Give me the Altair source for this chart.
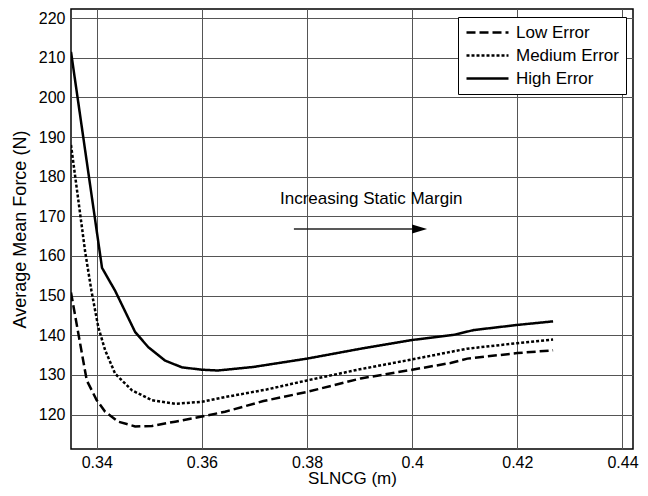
import altair as alt
import pandas as pd

series_names = ["Low Error", "Medium Error", "High Error"]

low_x = [0.3351, 0.3365, 0.3381, 0.3400, 0.3416, 0.3441, 0.3473, 0.3505, 0.3549, 0.3600,
         0.3644, 0.3717, 0.3800, 0.3902, 0.4000, 0.4073, 0.4105, 0.4200, 0.4268]
low_y = [150.8, 140.4, 128.6, 123.6, 120.7, 118.2, 117.0, 117.1, 118.2, 119.5,
         120.7, 123.4, 125.7, 129.1, 131.3, 133.0, 134.1, 135.5, 136.2]

med_x = [0.3351, 0.3378, 0.3390, 0.3403, 0.3416, 0.3435, 0.3467, 0.3505, 0.3549, 0.3600,
         0.3644, 0.3723, 0.3800, 0.3900, 0.4000, 0.4104, 0.4200, 0.4268]
med_y = [188.0, 161.0, 151.1, 142.0, 136.2, 130.3, 126.1, 123.6, 122.7, 123.2,
         124.4, 126.3, 128.6, 131.4, 133.9, 136.6, 138.0, 138.9]

high_x = [0.3351, 0.3410, 0.3435, 0.3473, 0.3498, 0.3530, 0.3562, 0.3600, 0.3630, 0.3698,
          0.3800, 0.3902, 0.4000, 0.4079, 0.4117, 0.4200, 0.4268]
high_y = [211.5, 157.0, 151.2, 140.8, 137.0, 133.6, 131.9, 131.3, 131.1, 132.0,
          134.1, 136.6, 138.8, 140.1, 141.3, 142.6, 143.5]

x_ticks = [0.34, 0.36, 0.38, 0.40, 0.42, 0.44]
y_ticks = [120, 130, 140, 150, 160, 170, 180, 190, 200, 210, 220]
x_domain = [0.3351, 0.4420]
y_domain = [111.3, 222.3]

# annotation (data coordinates)
note_text = ["Increasing Static Margin"]
note_x = [0.3922]
note_y = [173.0]
arrow_x = [0.3775]
arrow_x2 = [0.4014]
arrow_y = [166.8]

rows = []
for name, xs, ys in [("Low Error", low_x, low_y), ("Medium Error", med_x, med_y), ("High Error", high_x, high_y)]:
    for i, (a, b) in enumerate(zip(xs, ys)):
        rows.append({"series": name, "x": a, "y": b, "order": i})
df = pd.DataFrame(rows)

FONT = "Liberation Sans"

x_scale = alt.Scale(domain=x_domain, nice=False, zero=False)
y_scale = alt.Scale(domain=y_domain, nice=False, zero=False)

x_axis = alt.Axis(title="SLNCG (m)", values=x_ticks, format=".2~f", grid=True,
                  gridColor="#555555", gridWidth=1, ticks=False, domain=False,
                  labelFont=FONT, labelFontSize=16, labelColor="black", labelPadding=5,
                  labelFlush=False, titleFont=FONT, titleFontSize=17, titleFontWeight="normal",
                  titleColor="black", titlePadding=0)
y_axis = alt.Axis(title="Average Mean Force (N)", values=y_ticks, grid=True,
                  gridColor="#555555", gridWidth=1, ticks=False, domain=False,
                  labelFont=FONT, labelFontSize=16, labelColor="black", labelPadding=6,
                  labelFlush=False, titleFont=FONT, titleFontSize=18, titleFontWeight="normal",
                  titleColor="black", titlePadding=9)

lines = alt.Chart(df).mark_line(color="black", strokeWidth=2.5, clip=True).encode(
    x=alt.X("x:Q", scale=x_scale, axis=x_axis),
    y=alt.Y("y:Q", scale=y_scale, axis=y_axis),
    strokeDash=alt.StrokeDash(
        "series:N",
        scale=alt.Scale(domain=series_names, range=[[9, 4], [3, 2], [1, 0]]),
        legend=alt.Legend(title=None, orient="none", legendX=387, legendY=8,
                          fillColor="white", strokeColor="black", padding=7,
                          symbolType="M-1,0H5", symbolSize=196, symbolStrokeWidth=2.5,
                          symbolStrokeColor="black", symbolFillColor="transparent",
                          labelFont=FONT, labelFontSize=17, labelColor="black",
                          rowPadding=5, labelOffset=34, cornerRadius=0),
    ),
    order="order:Q",
)

note_df = pd.DataFrame({"text": note_text, "x": note_x, "y": note_y})
note = alt.Chart(note_df).mark_text(font=FONT, fontSize=17, color="black", align="center",
                                    baseline="alphabetic").encode(
    x=alt.X("x:Q", scale=x_scale), y=alt.Y("y:Q", scale=y_scale), text="text:N")

arrow_df = pd.DataFrame({"x": arrow_x, "x2": arrow_x2, "y": arrow_y})
shaft = alt.Chart(arrow_df).mark_rule(color="#222222", strokeWidth=1.3).encode(
    x=alt.X("x:Q", scale=x_scale), x2="x2:Q", y=alt.Y("y:Q", scale=y_scale))
head = alt.Chart(arrow_df).mark_point(shape="M-1,-0.6L1,0L-1,0.6Z", size=225, filled=True,
                                      color="black", opacity=1).encode(
    x=alt.X("x2:Q", scale=x_scale), y=alt.Y("y:Q", scale=y_scale))

chart = alt.layer(lines, note, shaft, head).properties(
    width=562, height=440,
    autosize=alt.AutoSizeParams(type="none"),
    padding={"left": 63, "top": 1, "right": 7, "bottom": 39},
    background="white",
).configure_view(stroke="black", strokeWidth=1.5)

chart.save("out.html", embed_options={"renderer": "svg", "actions": False})
